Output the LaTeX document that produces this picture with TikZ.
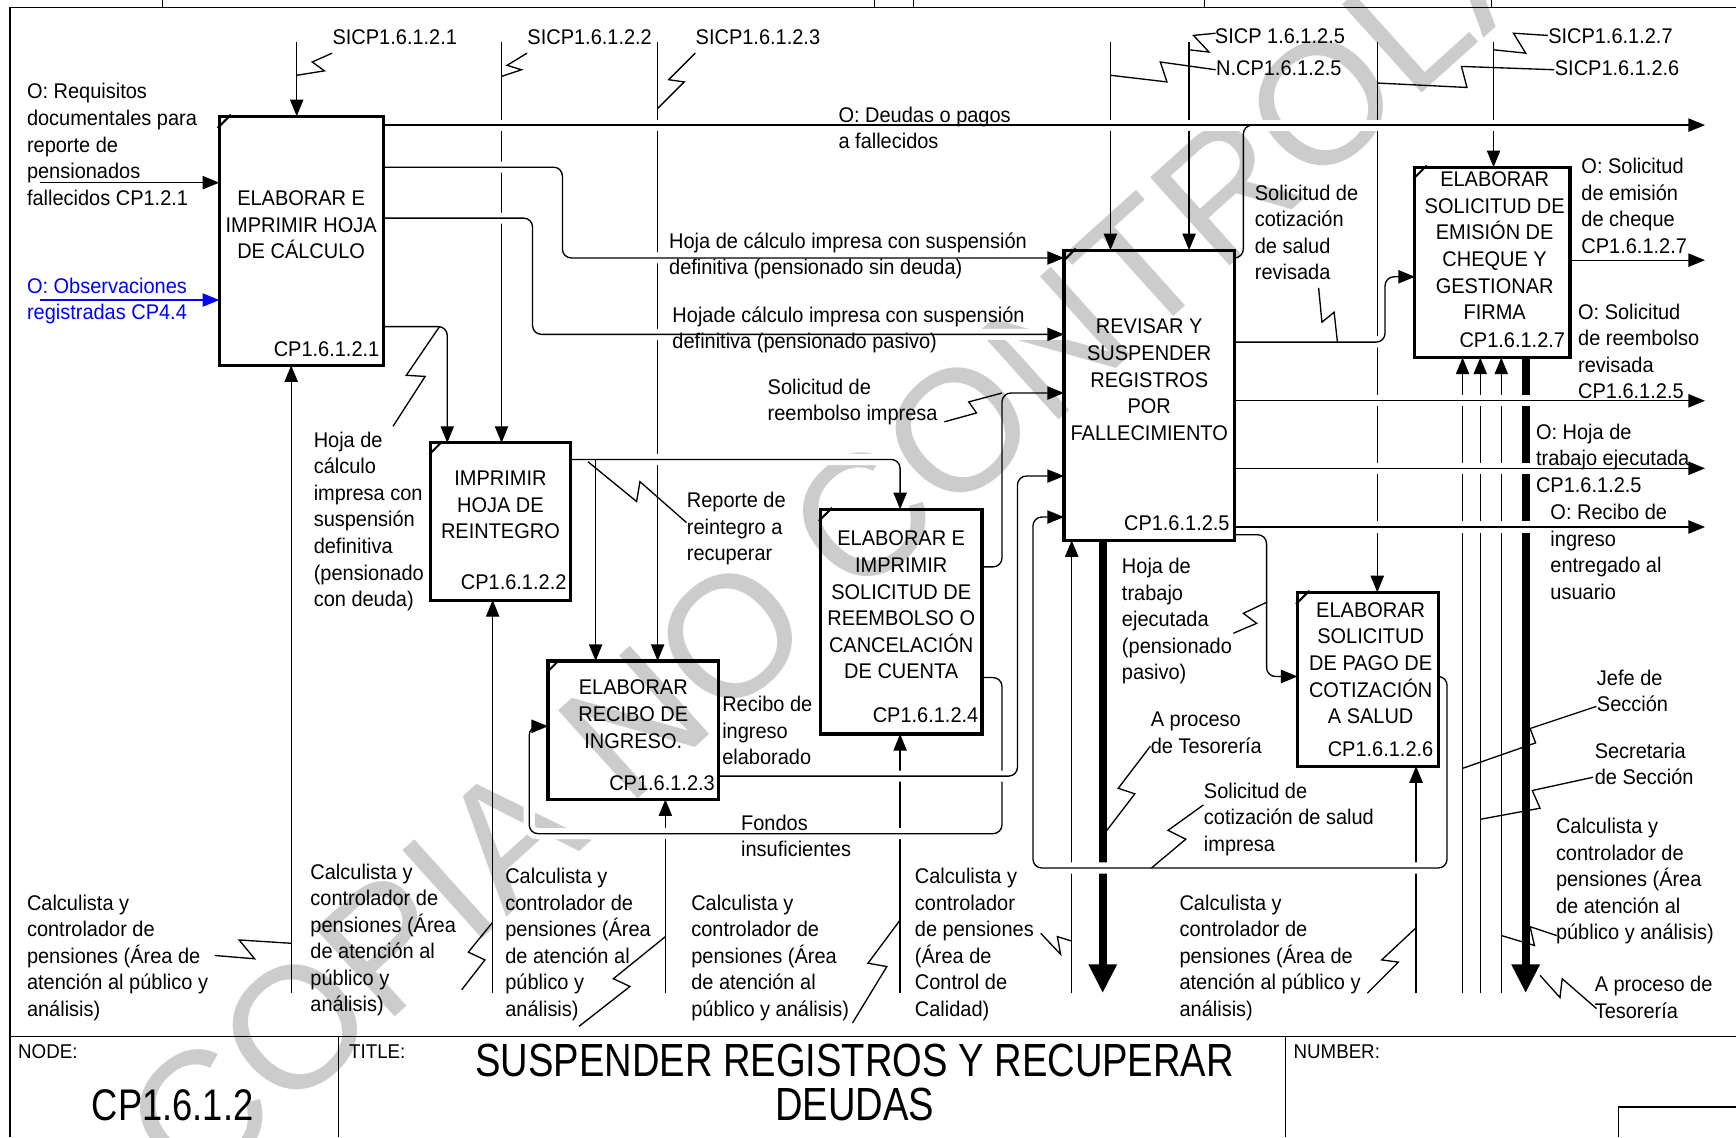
\documentclass[tikz,border=0pt]{standalone}
\usepackage{fontspec}
\setmainfont[FakeStretch=0.94]{Liberation Sans}
\newfontfamily\tfont[FakeStretch=0.82]{Liberation Sans}
\newfontfamily\wmfont{Liberation Sans}
\usetikzlibrary{arrows.meta}
\definecolor{wm}{gray}{0.80}
\definecolor{obsblue}{RGB}{0,0,255}
\tikzset{
 ln/.style={draw, line width=0.6pt},
 ar/.style={ln, -{Triangle[length=7.5pt,width=6pt]}},
 hx/.style={preaction={draw=white, line width=5pt, arrows=-}},
 rc/.style={rounded corners=4pt},
 pbox/.style={draw, line width=1.4pt, inner sep=0pt},
 thk/.style={draw, line width=3.6pt},
 bar/.style={-{Triangle[length=13pt,width=12pt]}},
 lbl/.style={font=\fontsize{9.6}{12}\selectfont, align=left, inner sep=0pt, anchor=west},
 btx/.style={font=\fontsize{9.6}{12}\selectfont, align=center, inner sep=0pt},
 num/.style={font=\fontsize{9.6}{12}\selectfont, inner sep=0pt, anchor=east},
 hdr/.style={font=\fontsize{9}{11}\selectfont, inner sep=0pt, anchor=west},
 corner/.style={draw, line width=0.9pt},
}
\begin{document}
\begin{tikzpicture}[x=0.5pt,y=-0.5pt]
\useasboundingbox (0,0) rectangle (1568,1027);
% watermark
\begin{scope}
\clip (0,0) rectangle (1568,1027);
\node[text=wm, font=\wmfont\fontsize{78}{78}\selectfont, rotate=42, inner sep=0pt] (wmk) at (840,412) {COPIA NO CONTROLADA};
\end{scope}
% frame
\draw[ln] (9,1027) -- (9,7) -- (1568,7);
\foreach \tx in {147,790,825,1088,1347} \draw[ln] (\tx,0) -- (\tx,7);
\draw[ln] (9,936) -- (1568,936);
\draw[ln] (306,936) -- (306,1027);
\draw[ln] (1161,936) -- (1161,1027);
\draw[ln] (1462,1027) -- (1462,1000) -- (1568,1000);
% controls (top)
\draw[ar] (268,38) -- (268,105);
\draw[ar] (453,38) -- (453,400);
\draw[ar] (594,38) -- (594,597);
\draw[ar] (1003,38) -- (1003,226);
\draw[ar] (1074,38) -- (1074,226);
\draw[ar] (1244,38) -- (1244,535);
\draw[ar] (1349,38) -- (1349,151);
% mechanisms (bottom)
\draw[ar] (263,897) -- (263,330);
\draw[ar] (445,897) -- (445,542);
\draw[ar] (601,897) -- (601,722);
\draw[ar] (813,897) -- (813,663);
\draw[ar] (968,897) -- (968,488);
\draw[ar] (1279,897) -- (1279,692);
\draw[ar] (1321,897) -- (1321,323);
\draw[ar] (1337,897) -- (1337,323);
\draw[ar] (1356,897) -- (1356,323);
\draw[thk, bar] (996,488) -- (996,897);
\draw[thk, bar] (1378,323) -- (1378,897);
% flows
\draw[ar,hx] (346,113) -- (1540,113);
\draw[ar,hx,rc] (346,151) -- (508,151) -- (508,233) -- (961,233);
\draw[ar,hx,rc] (346,197) -- (481,197) -- (481,302) -- (961,302);
\draw[ar,rc] (346,295) -- (404,295) -- (404,400);
\draw[ar,hx,rc] (515,415) -- (813,415) -- (813,460);
\draw[ar] (538,415) -- (538,597);
\draw[ar,rc] (887,512) -- (905,512) -- (905,355) -- (961,355);
\draw[ar,hx,rc] (887,612) -- (905,612) -- (905,753) -- (478,753) -- (478,656) -- (495,656);
\draw[ar,hx,rc] (649,701) -- (919,701) -- (919,430) -- (961,430);
\draw[ar,hx,rc] (1299,611) -- (1307,611) -- (1307,784) -- (933,784) -- (933,467) -- (961,467);
\draw[ar,rc] (1115,483) -- (1144,483) -- (1144,611) -- (1172,611);
\draw[ar,hx,rc] (1115,309) -- (1251,309) -- (1251,250) -- (1278,250);
\draw[ln,rc] (1115,233) -- (1123,233) -- (1123,113) -- (1140,113);
\draw[ar] (1418,235) -- (1540,235);
\draw[ar,hx] (1115,362) -- (1540,362);
\draw[ar,hx] (1115,423) -- (1540,423);
\draw[ar,hx] (1115,476) -- (1540,476);
\draw[ar] (36,165) -- (198,165);
\draw[ar,obsblue] (36,271) -- (198,271);
% boxes
\node[pbox, minimum width=74pt, minimum height=112.5pt] (b1) at (272,217.5) {};
\node[pbox, minimum width=63pt, minimum height=71pt] (b2) at (452,471) {};
\node[pbox, minimum width=77pt, minimum height=62.5pt] (b3) at (572,659.5) {};
\node[pbox, minimum width=73pt, minimum height=101.5pt] (b4) at (814,561.5) {};
\node[pbox, minimum width=77pt, minimum height=131pt] (b5) at (1038,357) {};
\node[pbox, minimum width=63.5pt, minimum height=78.5pt] (b6) at (1235.5,613.5) {};
\node[pbox, minimum width=70pt, minimum height=86pt] (b7) at (1348,237) {};
\foreach \b in {b1,b2,b3,b4,b5,b6,b7}
  \draw[corner] ([yshift=-6pt]\b.north west) -- ([xshift=6pt]\b.north west);
% box texts
\node[btx] (t1) at (272,203) {ELABORAR E\\IMPRIMIR HOJA\\DE CÁLCULO};
\node[btx] (t2) at (452,456) {IMPRIMIR\\HOJA DE\\REINTEGRO};
\node[btx] (t3) at (572,645) {ELABORAR\\RECIBO DE\\INGRESO.};
\node[btx] (t4) at (814,546.5) {ELABORAR E\\IMPRIMIR\\SOLICITUD DE\\REEMBOLSO O\\CANCELACIÓN\\DE CUENTA};
\node[btx] (t5) at (1038,343) {REVISAR Y\\SUSPENDER\\REGISTROS\\POR\\FALLECIMIENTO};
\node[btx] (t6) at (1238,599) {ELABORAR\\SOLICITUD\\DE PAGO DE\\COTIZACIÓN\\A SALUD};
\node[btx] (t7) at (1350,222) {ELABORAR\\SOLICITUD DE\\EMISIÓN DE\\CHEQUE Y\\GESTIONAR\\FIRMA};
\node[num] (n1) at (343,315) {CP1.6.1.2.1};
\node[num] (n2) at (512,526) {CP1.6.1.2.2};
\node[num] (n3) at (646,707) {CP1.6.1.2.3};
\node[num] (n4) at (884,646) {CP1.6.1.2.4};
\node[num] (n5) at (1111,473) {CP1.6.1.2.5};
\node[num] (n6) at (1295,677) {CP1.6.1.2.6};
\node[num] (n7) at (1414,307) {CP1.6.1.2.7};
% control labels and squiggles
\node[lbl] (s1) at (300,34) {SICP1.6.1.2.1};
\node[lbl] (s2) at (476,34) {SICP1.6.1.2.2};
\node[lbl] (s3) at (628,34) {SICP1.6.1.2.3};
\node[lbl] (s4) at (1097,33) {SICP 1.6.1.2.5};
\node[lbl] (s5) at (1098,62) {N.CP1.6.1.2.5};
\node[lbl] (s6) at (1398,33) {SICP1.6.1.2.7};
\node[lbl] (s7) at (1404,62) {SICP1.6.1.2.6};
\draw[ln] (268,68) -- (293,64) -- (282,56) -- (300,48);
\draw[ln] (453,69) -- (471,63) -- (458,59) -- (476,48);
\draw[ln] (594,98) -- (618,74) -- (604,72) -- (628,48);
\draw[ln] (1074,45) -- (1092,47) -- (1078,32) -- (1098,30);
\draw[ln] (1003,68) -- (1054,74) -- (1048,56) -- (1098,63);
\draw[ln] (1349,45) -- (1378,48) -- (1367,30) -- (1398,32);
\draw[ln] (1244,75) -- (1325,79) -- (1320,60) -- (1404,63);
% flow labels
\node[lbl] (l1) at (24,130.5) {O: Requisitos\\documentales para\\reporte de\\pensionados\\fallecidos CP1.2.1};
\node[lbl, text=obsblue] (l2) at (24,272) {O: Observaciones\\registradas CP4.4};
\node[lbl] (l3) at (757,115.5) {O: Deudas o pagos\\a fallecidos};
\node[lbl] (l4) at (604,231) {Hoja de cálculo impresa con suspensión\\definitiva (pensionado sin deuda)};
\node[lbl] (l5) at (607,298) {Hojade cálculo impresa con suspensión\\definitiva (pensionado pasivo)};
\node[lbl] (l6) at (693,363) {Solicitud de\\reembolso impresa};
\node[lbl] (l7) at (283,471) {Hoja de\\cálculo\\impresa con\\suspensión\\definitiva\\(pensionado\\con deuda)};
\node[lbl] (l8) at (620,477.5) {Reporte de\\reintegro a\\recuperar};
\node[lbl] (l9) at (652,660) {Recibo de\\ingreso\\elaborado};
\node[lbl] (l10) at (669,755) {Fondos\\insuficientes};
\node[lbl] (l11) at (1133,210) {Solicitud de\\cotización\\de salud\\revisada};
\node[lbl] (l12) at (1428,186) {O: Solicitud\\de emisión\\de cheque\\CP1.6.1.2.7};
\node[lbl] (l13) at (1425,317.5) {O: Solicitud\\de reembolso\\revisada\\CP1.6.1.2.5};
\node[lbl] (l14) at (1387,414) {O: Hoja de\\trabajo ejecutada\\CP1.6.1.2.5};
\node[lbl] (l15) at (1400,498.5) {O: Recibo de\\ingreso\\entregado al\\usuario};
\node[lbl] (l16) at (1013,561) {Hoja de\\trabajo\\ejecutada\\(pensionado\\pasivo)};
\node[lbl] (l17) at (1039,662) {A proceso\\de Tesorería};
\node[lbl] (l18) at (1087,740) {Solicitud de\\cotización de salud\\impresa};
\node[lbl] (l19) at (1442,624) {Jefe de\\Sección};
\node[lbl] (l20) at (1440,690) {Secretaria\\de Sección};
\node[lbl] (l21) at (1405,796) {Calculista y\\controlador de\\pensiones (Área\\de atención al\\público y análisis)};
\node[lbl] (l22) at (1440,901) {A proceso de\\Tesorería};
\node[lbl] (m1) at (24,865) {Calculista y\\controlador de\\pensiones (Área de\\atención al público y\\análisis)};
\node[lbl] (m2) at (280,849) {Calculista y\\controlador de\\pensiones (Área\\de atención al\\público y\\análisis)};
\node[lbl] (m3) at (456,853) {Calculista y\\controlador de\\pensiones (Área\\de atención al\\público y\\análisis)};
\node[lbl] (m4) at (624,865) {Calculista y\\controlador de\\pensiones (Área\\de atención al\\público y análisis)};
\node[lbl] (m5) at (826,853) {Calculista y\\controlador\\de pensiones\\(Área de\\Control de\\Calidad)};
\node[lbl] (m6) at (1065,865) {Calculista y\\controlador de\\pensiones (Área de\\atención al público y\\análisis)};
% squiggles
\draw[ln] (263,852) -- (216,849) -- (230,866) -- (194,863);
\draw[ln] (445,833) -- (423,860) -- (438,867) -- (417,894);
\draw[ln] (601,846) -- (554,884) -- (569,891) -- (523,927);
\draw[ln] (813,831) -- (784,870) -- (801,873) -- (770,924);
\draw[ln] (968,850) -- (955,846) -- (958,862) -- (940,843);
\draw[ln] (1279,838) -- (1248,867) -- (1263,869) -- (1235,897);
\draw[ln] (1442,638) -- (1382,658) -- (1387,671) -- (1321,694);
\draw[ln] (1439,702) -- (1384,714) -- (1391,730) -- (1337,740);
\draw[ln] (1406,845) -- (1382,837) -- (1386,854) -- (1356,845);
\draw[ln] (1442,911) -- (1411,884) -- (1409,901) -- (1391,881);
\draw[ln] (1039,674) -- (1010,712) -- (1025,717) -- (999,751);
\draw[ln] (1114,572) -- (1135,563) -- (1123,554) -- (1144,544);
\draw[ln] (1040,784) -- (1071,758) -- (1055,750) -- (1087,727);
\draw[ln] (1191,260) -- (1194,291) -- (1205,282) -- (1208,309);
\draw[ln] (853,381) -- (882,373) -- (875,363) -- (905,355);
\draw[ln] (531,417) -- (575,453) -- (578,435) -- (620,472);
\draw[ln] (355,385) -- (384,340) -- (367,339) -- (397,295);
% title block
\node[hdr] (h1) at (16,950) {NODE:};
\node[hdr] (h2) at (315,950) {TITLE:};
\node[hdr] (h3) at (1168,950) {NUMBER:};
\node[font=\tfont\fontsize{20}{20}\selectfont, inner sep=0pt] (nd) at (156,998) {CP1.6.1.2};
\node[font=\tfont\fontsize{21}{20}\selectfont, align=center, inner sep=0pt] (tt) at (772,978) {SUSPENDER REGISTROS Y RECUPERAR\\DEUDAS};
\end{tikzpicture}
\end{document}
